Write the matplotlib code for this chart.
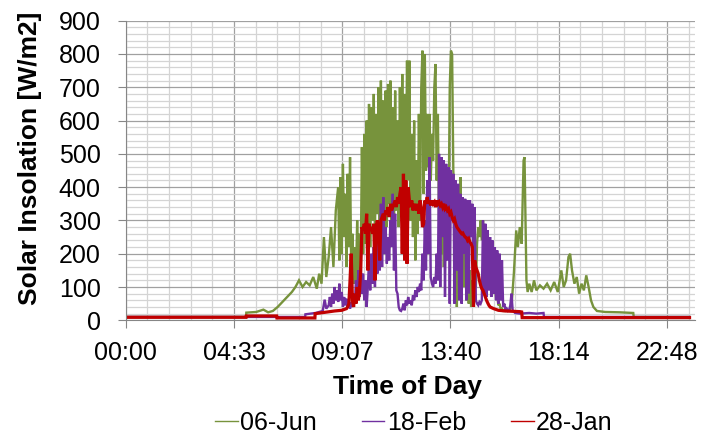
import matplotlib
matplotlib.use("Agg")
import matplotlib.pyplot as plt
import numpy as np
from matplotlib.ticker import FixedLocator, FuncFormatter
from matplotlib.lines import Line2D

plt.rcParams['font.family'] = ['Liberation Sans', 'DejaVu Sans']

STEP = 0.05  # logger interval during the busy part of the day, hours

# ---- 06-Jun ----
jun_hours_early = [0.0, 5.07, 5.08, 5.5, 5.8, 6.0, 6.2, 6.4, 6.6, 6.8, 7.0, 7.15, 7.3,
                   7.45, 7.6, 7.75, 7.9, 8.05, 8.15, 8.25, 8.35, 8.45, 8.55, 8.65, 8.75, 8.85]
jun_values_early = [10, 10, 23, 25, 32, 24, 28, 40, 55, 70, 85, 100, 120,
                    100, 115, 105, 130, 95, 140, 110, 250, 130, 190, 280, 160, 330]
jun_burst_start = 8.95
jun_burst = [400, 180, 430, 200, 470, 250, 380, 160, 440, 220,
             490, 150, 260, 110, 220, 120, 300, 140, 260, 170,
             520, 200, 560, 230, 600, 280, 650, 220, 640, 300,
             680, 250, 620, 320, 700, 260, 720, 300, 660, 240,
             690, 280, 710, 350, 720, 300, 640, 240, 690, 330,
             600, 280, 700, 350, 740, 300, 680, 380, 780, 420,
             780, 300, 560, 250, 600, 180, 480, 260, 620, 300,
             700, 810, 380, 800, 450, 620, 460, 620, 420, 560,
             480, 700, 770, 420, 620, 300, 420, 200, 380, 160,
             350, 220, 400, 300, 700, 810, 800, 450, 380, 200,
             40, 350, 120, 430, 60, 300, 100, 250, 60, 200,
             50, 150, 40, 120, 60, 180, 100, 230, 280, 250,
             300, 240, 300, 200, 260, 210, 220, 170, 190, 150,
             140, 110, 100, 70, 70, 45, 50, 32, 35, 28]
jun_hours_late = [16.0, 16.15, 16.25, 16.35, 16.45, 16.52, 16.6, 16.68, 16.76, 16.8,
                  16.84, 16.88, 16.93, 17.0, 17.1, 17.2, 17.3, 17.45, 17.6, 17.75,
                  17.9, 18.05, 18.2, 18.35, 18.45, 18.55, 18.65, 18.72, 18.8, 18.9,
                  19.0, 19.1, 19.2, 19.3, 19.4, 19.5, 19.6, 19.7, 19.85, 20.2,
                  20.8, 21.38, 21.4, 23.75]
jun_values_late = [28, 30, 40, 140, 270, 220, 280, 230, 480, 490,
                   300, 120, 85, 110, 85, 120, 90, 105, 95, 110,
                   90, 115, 85, 150, 100, 120, 190, 200, 150, 110,
                   130, 80, 110, 90, 135, 100, 60, 40, 28, 25,
                   24, 22, 10, 10]

# ---- 18-Feb ----
feb_hours_early = [0.0, 7.56, 7.57, 7.8, 8.0, 8.15, 8.3, 8.38, 8.45, 8.55, 8.6]
feb_values_early = [10, 10, 18, 20, 22, 25, 28, 62, 35, 45, 70]
feb_burst_start = 8.65
feb_burst = [40, 80, 50, 100, 60, 90, 55, 110, 60, 85,
             40, 70, 45, 65, 40, 60, 35, 55, 40, 70,
             50, 120, 60, 150, 70, 160, 80, 140, 60, 120,
             40, 100, 180, 90, 200, 110, 220, 100, 250, 140,
             280, 150, 350, 160, 370, 200, 280, 170, 250, 180,
             300, 220, 380, 150, 320, 90, 80, 40, 30, 28,
             35, 50, 30, 60, 45, 70, 50, 60, 45, 75,
             60, 90, 70, 100, 85, 110, 90, 200, 120, 300,
             150, 420, 200, 490, 130, 110, 100, 130, 110, 200,
             120, 500, 100, 490, 250, 480, 70, 470, 180, 460,
             50, 450, 300, 440, 50, 420, 150, 410, 60, 380,
             50, 370, 200, 365, 60, 360, 80, 360, 250, 350,
             100, 340, 60, 50, 45, 55, 50, 60, 300, 80,
             290, 70, 270, 90, 250, 70, 240, 80, 220, 60,
             210, 50, 200, 60, 180, 40, 50, 30, 35, 28,
             30, 45, 80, 30]
feb_hours_late = [16.4, 16.6, 17.0, 17.3, 17.6, 17.62, 23.75]
feb_values_late = [22, 20, 22, 20, 22, 10, 10]

# ---- 28-Jan ----
jan_hours_early = [0.0, 5.07, 5.08, 6.36, 6.37, 7.97, 7.98, 8.2, 8.5, 8.8, 9.1, 9.3]
jan_values_early = [9, 9, 13, 13, 7, 7, 20, 22, 25, 28, 30, 35]
jan_burst_start = 9.35
jan_burst = [40, 50, 120, 200, 60, 40, 80, 50, 100, 60,
             90, 150, 280, 270, 290, 260, 320, 150, 290, 270,
             280, 260, 290, 120, 280, 300, 270, 180, 300, 310,
             320, 300, 330, 320, 340, 310, 350, 330, 340, 350,
             360, 340, 370, 350, 380, 400, 200, 440, 180, 420,
             170, 400, 360, 340, 360, 330, 350, 340, 330, 350,
             320, 360, 340, 280, 290, 360, 350, 370, 350, 360,
             345, 360, 350, 355, 340, 360, 350, 355, 345, 350,
             340, 350, 335, 340, 330, 335, 320, 325, 310, 300,
             305, 290, 280, 275, 270, 265, 260, 262, 255, 250,
             248, 240, 245, 235, 230, 220, 40, 180, 160, 150,
             140, 120, 105, 95, 90, 80, 70, 60, 52, 45]
jan_hours_late = [15.35, 15.5, 15.7, 16.0, 16.3, 16.6, 16.68, 16.7, 23.75]
jan_values_late = [40, 35, 30, 28, 27, 26, 25, 8, 8]

labels = ['06-Jun', '18-Feb', '28-Jan']
colors = ['#77933C', '#7030A0', '#C00000']


def build(h_early, v_early, start, burst, h_late, v_late):
    t = np.concatenate([h_early, start + STEP * np.arange(len(burst)), h_late])
    v = np.concatenate([v_early, burst, v_late])
    return t, v


series = [
    build(jun_hours_early, jun_values_early, jun_burst_start, jun_burst, jun_hours_late, jun_values_late),
    build(feb_hours_early, feb_values_early, feb_burst_start, feb_burst, feb_hours_late, feb_values_late),
    build(jan_hours_early, jan_values_early, jan_burst_start, jan_burst, jan_hours_late, jan_values_late),
]
widths = [1.7, 1.7, 2.3]

fig = plt.figure(figsize=(7.01, 4.34), dpi=100)
ax = fig.add_axes([0.1793, 0.262, 0.8128, 0.6903])

for (t, v), c, w in zip(series, colors, widths):
    ax.plot(t, v, color=c, lw=w, solid_joinstyle='miter')

ax.set_xlim(0, 24)
ax.set_ylim(0, 900)

ax.xaxis.set_major_locator(FixedLocator(4.56 * np.arange(6)))
ax.xaxis.set_minor_locator(FixedLocator(0.912 * np.arange(27)))
ax.xaxis.set_major_formatter(FuncFormatter(
    lambda h, pos: "%02d:%02d" % divmod(int(h * 60 + 1e-6), 60)))
ax.yaxis.set_major_locator(FixedLocator(np.arange(0, 901, 100)))
ax.yaxis.set_minor_locator(FixedLocator(np.arange(0, 901, 20)))

ax.grid(which='minor', color='#d4d4d4', lw=0.9)
ax.grid(which='major', color='#a0a0a0', lw=0.9)
ax.set_axisbelow(True)

for side in ['top', 'right']:
    ax.spines[side].set_visible(False)
for side in ['left', 'bottom']:
    ax.spines[side].set_color('#868686')

ax.tick_params(which='major', direction='out', length=6, color='#868686', labelsize=18)
ax.tick_params(which='minor', length=0)
ax.tick_params(axis='y', pad=12)
ax.tick_params(axis='x', pad=9)

ax.set_ylabel('Solar Insolation [W/m2]', fontsize=19, fontweight='bold')
ax.yaxis.set_label_coords(-0.147, 0.54)
ax.set_xlabel('Time of Day', fontsize=19, fontweight='bold')
ax.xaxis.set_label_coords(0.495, -0.183)

handles = [Line2D([], [], color=c, lw=1) for c in colors]
fig.legend(handles, labels, loc='center', bbox_to_anchor=(0.5906, 0.026), ncol=3,
           frameon=False, handlelength=0.9, handletextpad=0.1, columnspacing=1.8,
           fontsize=18)

fig.savefig('out.png', dpi=100)
